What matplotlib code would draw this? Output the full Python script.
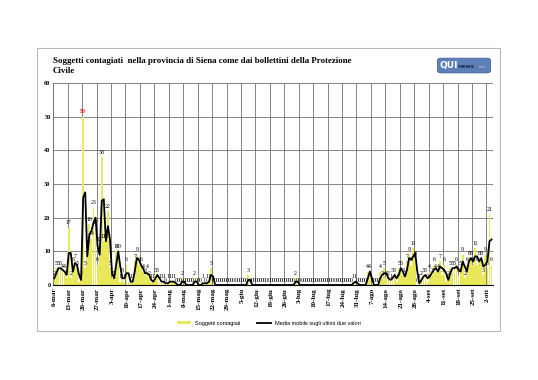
import numpy as np
import pandas as pd
import matplotlib.pyplot as plt
from matplotlib.patches import Rectangle, FancyBboxPatch

# contagi giornalieri provincia di Siena, dal 6 marzo al 4 ottobre
marzo = [2, 5, 5, 5, 4, 4, 2, 17, 2, 6, 7, 5, 1, 2, 50, 5, 12, 18, 14, 23,
         17, 6, 12, 38, 13, 13]
aprile = [22, 5, 2, 2, 10, 10, 1, 3, 1, 6, 1, 1, 1, 7, 9, 6, 6, 4, 3, 4,
          2, 1, 1, 3, 3, 1, 1, 1, 0, 1]
maggio = [1, 1, 1, 0, 0, 0, 2, 0, 0, 0, 0, 0, 2, 0, 0, 0, 1, 0, 1, 1,
          5, 0, 0, 0, 0, 0, 0, 0, 0, 0, 0]
giugno = [0, 0, 0, 0, 0, 0, 0, 3, 0, 0, 0, 0, 0, 0, 0, 0, 0, 0, 0, 0,
          0, 0, 0, 0, 0, 0, 0, 0, 0, 0]
luglio = [2, 0, 0, 0, 0, 0, 0, 0, 0, 0, 0, 0, 0, 0, 0, 0, 0, 0, 0, 0,
          0, 0, 0, 0, 0, 0, 0, 0, 1, 1, 0]
agosto = [0, 0, 0, 0, 4, 4, 0, 0, 0, 0, 4, 2, 5, 2, 2, 1, 3, 3, 1, 5,
          5, 3, 2, 7, 9, 6, 11, 8, 0, 1, 2]
settembre = [3, 3, 1, 4, 3, 6, 4, 4, 7, 3, 6, 1, 2, 5, 5, 5, 6, 3, 5, 9,
             2, 6, 8, 8, 6, 11, 6, 8, 8, 3]
ottobre = [9, 5, 21, 6]

etichette = ['6-mar', '13-mar', '20-mar', '27-mar', '3-apr', '10-apr', '17-apr',
             '24-apr', '1-mag', '8-mag', '15-mag', '22-mag', '29-mag', '5-giu',
             '12-giu', '19-giu', '26-giu', '3-lug', '10-lug', '17-lug', '24-lug',
             '31-lug', '7-ago', '14-ago', '21-ago', '28-ago', '4-set', '11-set',
             '18-set', '25-set', '2-ott']

contagi = np.array(marzo + aprile + maggio + giugno + luglio + agosto + settembre + ottobre)
giorni = np.arange(len(contagi))
media = pd.Series(contagi).rolling(2, min_periods=1).mean()  # media mobile 2 valori

serif = 'Liberation Serif'
fig = plt.figure(figsize=(5.38, 3.8), dpi=100)
ax = fig.add_axes([0.099, 0.25, 0.8166, 0.5316])

# cornice esterna
fig.patches.append(Rectangle((0.0688, 0.1289), 0.8606, 0.7448, transform=fig.transFigure,
                             fill=False, edgecolor='#b8b8b8', lw=0.8))

barre = ax.bar(giorni, contagi, width=0.9, color='#e8e85a', edgecolor='none', zorder=2)
linea, = ax.plot(giorni, media, color='black', lw=1.3, zorder=3)

for g, v in zip(giorni, contagi):
    picco = v == contagi.max()
    ax.text(g, v + 0.7, str(v), ha='center', va='bottom', fontsize=4.2,
            family=serif, color='red' if picco else 'black',
            fontweight='bold' if picco else 'normal', zorder=4)

ax.set_xlim(-0.5, len(contagi) - 0.5)
ax.set_ylim(0, 60)
ax.set_yticks(range(0, 61, 10))
ax.set_xticks(giorni[::7])
ax.set_xticklabels(etichette, rotation=90, fontsize=5, family=serif, fontweight='bold')
ax.set_xticks(giorni[::7] - 0.5, minor=True)
for lab in ax.get_yticklabels():
    lab.set_fontsize(4.5)
    lab.set_family(serif)
    lab.set_fontweight('bold')
ax.tick_params(axis='both', which='both', length=0, pad=2)
ax.grid(axis='y', color='#707070', lw=0.6, zorder=1)
ax.grid(axis='x', which='minor', color='#707070', lw=0.6, zorder=1)
ax.spines['top'].set_visible(False)
ax.spines['right'].set_visible(False)
ax.spines['left'].set_color('#707070')
ax.spines['left'].set_linewidth(0.6)
ax.spines['bottom'].set_color('black')
ax.spines['bottom'].set_linewidth(0.8)

fig.text(0.0985, 0.85, 'Soggetti contagiati  nella provincia di Siena come dai bollettini della Protezione\nCivile',
         ha='left', va='top', fontsize=6.4, family=serif, fontweight='bold', linespacing=1.35)

# logo QUInews
fig.patches.append(FancyBboxPatch((0.815, 0.81), 0.095, 0.035, transform=fig.transFigure,
                                  boxstyle='round,pad=0.002,rounding_size=0.006',
                                  facecolor='#5d80b8', edgecolor='#3f5f95', lw=0.5))
fig.text(0.817, 0.827, 'QUI', ha='left', va='center', fontsize=6.5, color='white',
         fontweight='bold', family='DejaVu Sans')
fig.text(0.851, 0.825, 'news', ha='left', va='center', fontsize=4.3, color='#1d2f55',
         fontweight='bold', family='DejaVu Sans')
fig.text(0.889, 0.824, 'net', ha='left', va='center', fontsize=3.2, color='#c8d6ee',
         family='DejaVu Sans')

ax.legend([barre, linea], ['Soggetti contagiati', 'Media mobile sugli ultimi due valori'],
          loc='center', bbox_to_anchor=(0.5, 0.15), bbox_transform=fig.transFigure,
          ncol=2, frameon=False, prop={'family': 'Liberation Sans', 'size': 4},
          handlelength=2.5, handleheight=0.5, columnspacing=3)

fig.savefig('out.png', dpi=100, facecolor='white')
